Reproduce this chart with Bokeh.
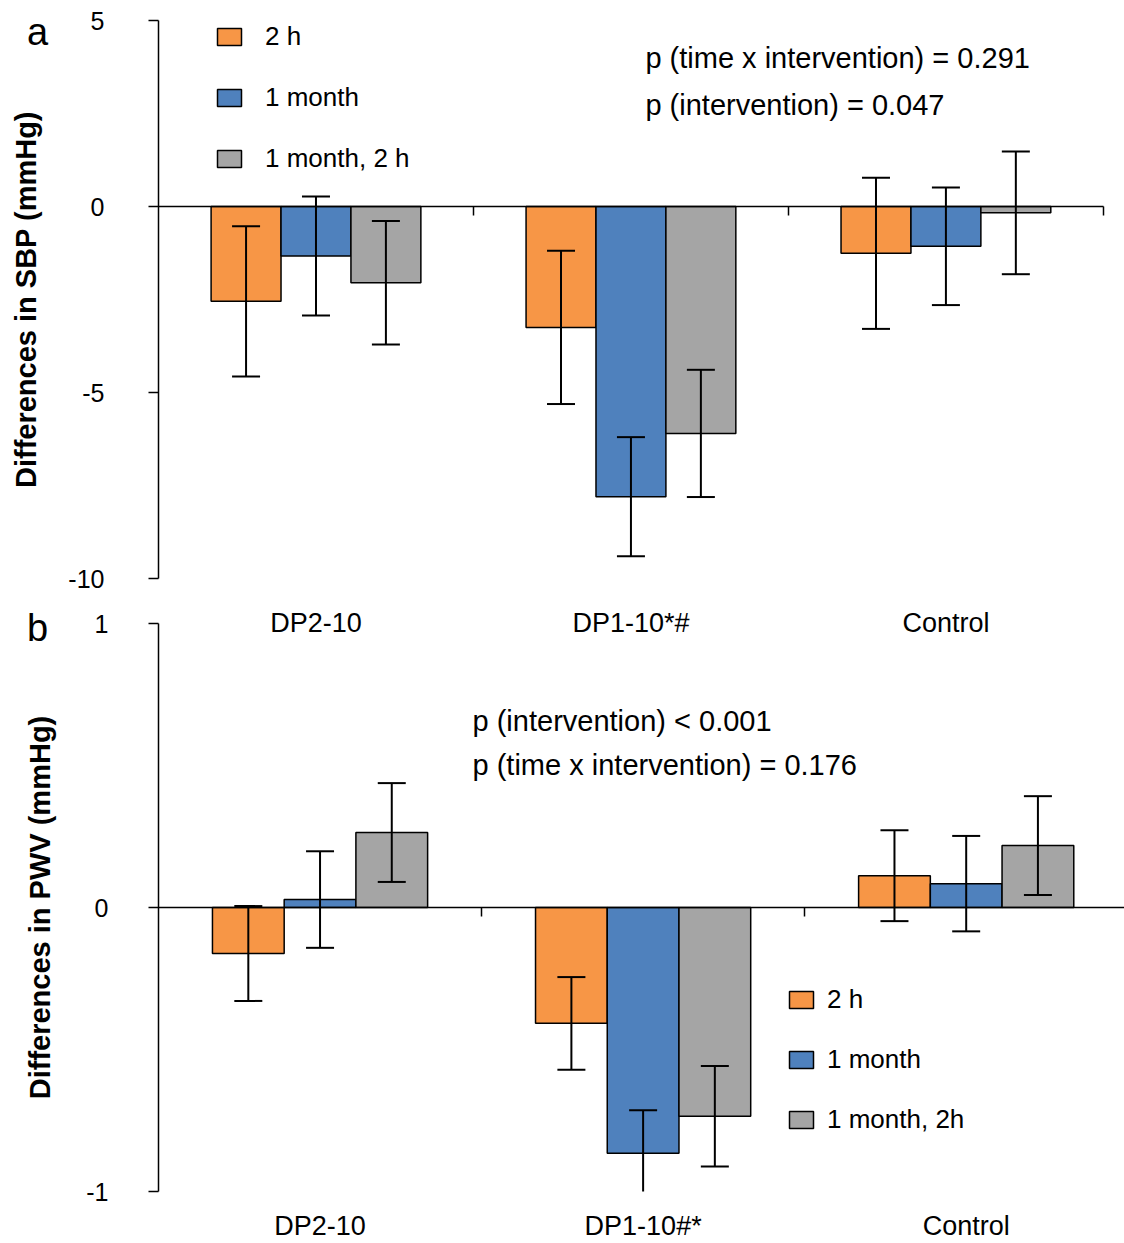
from bokeh.plotting import figure
from bokeh.models import (Range1d, FixedTicker, LinearAxis, Whisker, TeeHead, Legend,
                          LegendItem, Label, ColumnDataSource, Div)
from bokeh.layouts import column
from bokeh.embed import file_html
from bokeh.resources import INLINE

# ---------------- data ----------------
categories_a = ["DP2-10", "DP1-10*#", "Control"]
categories_b = ["DP2-10", "DP1-10#*", "Control"]
series_a = ["2 h", "1 month", "1 month, 2 h"]
series_b = ["2 h", "1 month", "1 month, 2h"]

# Panel a: differences in SBP (mmHg)
sbp_2h = [-2.55, -3.25, -1.26]
sbp_1m = [-1.33, -7.80, -1.07]
sbp_1m2h = [-2.05, -6.10, -0.17]
sbp_err_2h = [2.02, 2.06, 2.03]
sbp_err_1m = [1.60, 1.60, 1.58]
sbp_err_1m2h = [1.66, 1.71, 1.65]

# Panel b: differences in PWV
pwv_2h = [-0.162, -0.408, 0.112]
pwv_1m = [0.028, -0.865, 0.084]
pwv_1m2h = [0.264, -0.735, 0.218]
pwv_err_2h = [0.167, 0.163, 0.160]
pwv_err_1m = [0.170, 0.151, 0.168]
pwv_err_1m2h = [0.174, 0.177, 0.174]

y_ticks_a = [-10, -5, 0, 5]
y_ticks_b = [-1, 0, 1]

p_texts_a = ["p (time x intervention) = 0.291", "p (intervention) = 0.047"]
p_texts_b = ["p (intervention) < 0.001", "p (time x intervention) = 0.176"]

colors = ["#F79646", "#4F81BD", "#A5A5A5"]
FONT = "Liberation Sans"
BAR_W = 0.222
OFFSETS = [-BAR_W, 0.0, BAR_W]


def make_panel(width, height, x_end, y_lo, y_hi, borders, cats, series, vals, errs,
               yticks, ylabel, tick_standoff, ylabel_standoff, cat_standoff,
               legend_loc, legend_standoff, legend_spacing):
    p = figure(width=width, height=height, x_range=Range1d(-0.5, x_end),
               y_range=Range1d(y_lo, y_hi), output_backend="svg", toolbar_location=None,
               min_border_left=borders[0], min_border_right=borders[1],
               min_border_top=borders[2], min_border_bottom=borders[3])
    p.background_fill_alpha = 0
    p.border_fill_alpha = 0
    p.outline_line_color = None
    p.xgrid.visible = False
    p.ygrid.visible = False

    items = []
    for k in range(3):
        xs = [i + OFFSETS[k] for i in range(len(cats))]
        src = ColumnDataSource(dict(
            x=xs, top=vals[k],
            upper=[v + e for v, e in zip(vals[k], errs[k])],
            lower=[v - e for v, e in zip(vals[k], errs[k])]))
        r = p.vbar(x="x", top="top", bottom=0, width=BAR_W, source=src,
                   fill_color=colors[k], line_color="black", line_width=1.5)
        w = Whisker(base="x", upper="upper", lower="lower", source=src,
                    line_color="black", line_width=2, level="overlay",
                    upper_head=TeeHead(size=28, line_width=2, line_color="black"),
                    lower_head=TeeHead(size=28, line_width=2, line_color="black"))
        p.add_layout(w)
        items.append(LegendItem(label=series[k], renderers=[r]))

    # y axis
    ya = p.yaxis[0]
    ya.ticker = FixedTicker(ticks=yticks)
    ya.major_label_overrides = {t: str(t) for t in yticks}
    ya.major_tick_out = 10
    ya.major_tick_in = 0
    ya.minor_tick_line_color = None
    ya.axis_line_width = 1.5
    ya.major_tick_line_width = 1.5
    ya.major_label_standoff = tick_standoff
    ya.major_label_text_font = FONT
    ya.major_label_text_font_size = "25px"
    ya.major_label_text_color = "black"
    ya.axis_label = ylabel
    ya.axis_label_text_font = FONT
    ya.axis_label_text_font_size = "29px"
    ya.axis_label_text_font_style = "bold"
    ya.axis_label_text_color = "black"
    ya.axis_label_standoff = ylabel_standoff

    # category labels along the bottom
    xa = p.xaxis[0]
    xa.ticker = FixedTicker(ticks=list(range(len(cats))))
    xa.major_label_overrides = {i: c for i, c in enumerate(cats)}
    xa.axis_line_color = None
    xa.major_tick_line_color = None
    xa.minor_tick_line_color = None
    xa.major_tick_out = 0
    xa.major_tick_in = 0
    xa.major_label_standoff = cat_standoff
    xa.major_label_text_font = FONT
    xa.major_label_text_font_size = "27px"
    xa.major_label_text_color = "black"

    # zero line with category separators
    za = LinearAxis(fixed_location=0, bounds=(-0.5, x_end),
                    ticker=FixedTicker(ticks=[i + 0.5 for i in range(len(cats))]),
                    axis_line_width=1.5, major_tick_line_width=1.5,
                    major_tick_out=9, major_tick_in=0, minor_tick_line_color=None,
                    major_label_text_color=None, major_label_text_font_size="1px")
    p.add_layout(za, "below")

    legend = Legend(items=items, location=legend_loc, orientation="vertical",
                    glyph_width=30, glyph_height=21, label_standoff=legend_standoff,
                    spacing=legend_spacing, padding=0, margin=0, label_height=29,
                    border_line_color=None, background_fill_alpha=0,
                    label_text_font=FONT, label_text_font_size="26px",
                    label_text_color="black")
    p.add_layout(legend)
    return p, za


pa, za_a = make_panel(1124, 640, 2.567, -10, 5, (158, 0, 20, 62), categories_a, series_a,
                      [sbp_2h, sbp_1m, sbp_1m2h], [sbp_err_2h, sbp_err_1m, sbp_err_1m2h],
                      y_ticks_a, "Differences in SBP (mmHg)", 44, 23, 29,
                      (56, 404), 21, 30)
za_a.bounds = (-0.5, 2.5)
za_a.ticker = FixedTicker(ticks=[0.5, 1.5, 2.5])
for txt, yy in zip(p_texts_a, [4.0, 2.72]):
    pa.add_layout(Label(x=1.046, y=yy, text=txt, text_font=FONT, text_font_size="29px",
                        text_baseline="middle", text_align="left", text_color="black"))

pb, za_b = make_panel(1124, 643, 2.49, -1, 1, (158, 0, 23, 51), categories_b, series_b,
                      [pwv_2h, pwv_1m, pwv_1m2h], [pwv_err_2h, pwv_err_1m, pwv_err_1m2h],
                      y_ticks_b, "Differences in PWV (mmHg)", 40, 27, 19,
                      (628, 56), 11, 29)
for txt, yy in zip(p_texts_b, [0.657, 0.503]):
    pb.add_layout(Label(x=0.472, y=yy, text=txt, text_font=FONT, text_font_size="29px",
                        text_baseline="middle", text_align="left", text_color="black"))

div_style = {"font-family": FONT, "font-size": "38px", "color": "black",
             "padding-left": "27px"}
div_a = Div(text="a", width=80, height=70, margin=0,
            styles=dict(div_style, **{"line-height": "64px"}))
div_b = Div(text="b", width=80, height=40, margin=(-31, 0, 0, 0),
            styles=dict(div_style, **{"line-height": "38px"}))

pa.margin = (-70, 0, 0, 0)
pb.margin = (-49, 0, 0, 0)

layout = column(div_a, pa, div_b, pb, spacing=0)
open("out.html", "w").write(file_html(layout, INLINE))
